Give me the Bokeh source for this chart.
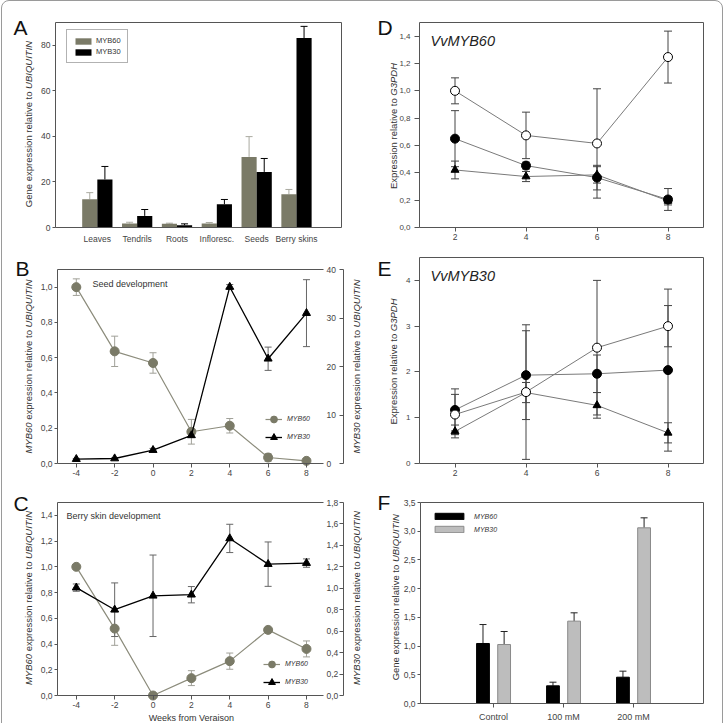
import numpy as np
from math import pi
from bokeh.plotting import figure
from bokeh.layouts import row, column
from bokeh.models import (ColumnDataSource, Range1d, LinearAxis, FixedTicker, Whisker, TeeHead,
                          Label, Legend, LegendItem, CustomJSTickFormatter, InlineStyleSheet)
from bokeh.embed import file_html
from bokeh.resources import INLINE

FONT = "Liberation Sans"
TXT = "#333333"
TICK_TXT = "#444444"
AX = "#555555"
OLIVE = "#7a7a67"
OLIVE_LINE = "#8c8c7c"
LIGHT = "#bdbdbd"

# ---------------- data ----------------
# A: expression per tissue
tissues = ["Leaves", "Tendrils", "Roots", "Infloresc.", "Seeds", "Berry skins"]
a_myb60 = [12.4, 1.8, 1.6, 1.8, 31.0, 14.6]
a_myb60_err = [2.9, 0.5, 0.3, 0.4, 8.9, 2.1]
a_myb30 = [21.1, 5.1, 1.0, 10.2, 24.4, 83.2]
a_myb30_err = [5.7, 2.8, 0.6, 2.1, 5.9, 5.1]

# B, C: weeks from veraison
weeks_bc = [-4, -2, 0, 2, 4, 6, 8]
b_myb60 = [1.0, 0.636, 0.57, 0.18, 0.214, 0.034, 0.015]
b_myb60_err = [0.047, 0.086, 0.058, 0.07, 0.041, 0.022, 0.005]
b_myb30 = [0.9, 1.03, 2.76, 5.8, 36.4, 21.6, 31.0]
b_myb30_err = [0.15, 0.15, 0.35, 0.4, 0.5, 2.4, 6.9]
c_myb60 = [1.0, 0.52, 0.0, 0.135, 0.267, 0.51, 0.362]
c_myb60_err = [0.01, 0.13, 0.0, 0.058, 0.063, 0.012, 0.062]
c_myb30 = [1.006, 0.80, 0.93, 0.94, 1.465, 1.225, 1.235]
c_myb30_err = [0.034, 0.25, 0.38, 0.076, 0.132, 0.207, 0.039]

# D, E: three series over weeks
weeks_de = [2, 4, 6, 8]
d_open = [1.0, 0.674, 0.615, 1.247]
d_open_err = [0.095, 0.17, 0.40, 0.19]
d_filled = [0.65, 0.453, 0.365, 0.205]
d_filled_err = [0.205, 0.025, 0.09, 0.08]
d_tri = [0.421, 0.373, 0.385, 0.195]
d_tri_err = [0.065, 0.037, 0.06, 0.03]
e_open = [1.07, 1.56, 2.53, 3.0]
e_open_err = [0.44, 1.47, 1.47, 0.45]
e_filled = [1.17, 1.93, 1.96, 2.04]
e_filled_err = [0.46, 0.97, 0.41, 1.77]
e_tri = [0.70, 1.55, 1.27, 0.67]
e_tri_err = [0.14, 0.22, 0.28, 0.22]

# F: salt treatments
treatments = ["Control", "100 mM", "200 mM"]
f_myb60 = [1.045, 0.308, 0.458]
f_myb60_err = [0.33, 0.063, 0.105]
f_myb30 = [1.027, 1.434, 3.059]
f_myb30_err = [0.227, 0.145, 0.174]

# Arial / Liberation Sans advance widths (per 1000 em)
ADV = {" ": 278, ".": 278, ",": 278, "-": 333,
       "a": 556, "b": 556, "c": 500, "d": 556, "e": 556, "f": 278, "g": 556, "h": 556, "i": 222,
       "j": 222, "k": 500, "l": 222, "m": 833, "n": 556, "o": 556, "p": 556, "q": 556, "r": 333,
       "s": 500, "t": 278, "u": 556, "v": 500, "w": 722, "x": 500, "y": 500, "z": 500,
       "A": 667, "B": 667, "C": 722, "D": 722, "E": 667, "F": 611, "G": 778, "H": 722, "I": 278,
       "J": 500, "K": 667, "L": 556, "M": 833, "N": 722, "O": 778, "P": 667, "Q": 778, "R": 722,
       "S": 667, "T": 611, "U": 722, "V": 667, "W": 944, "X": 667, "Y": 667, "Z": 611}


def text_w(s, size):
    return sum(ADV.get(ch, 556) for ch in s) * size / 1000.0


comma_fmt = CustomJSTickFormatter(code="return tick.toFixed(1).replace('.', ',');")
int_fmt = CustomJSTickFormatter(code="return tick.toFixed(0);")


class Panel:
    """A figure whose frame fills the whole canvas; the plot box is drawn by
    axes pinned at the box edges, so titles and letters can sit in the margins."""

    def __init__(self, W, H, L, R, T, B, xr, yr):
        self.W, self.H = W, H
        self.x0, self.x1 = xr
        self.y0, self.y1 = yr
        self.T, self.B = T, B
        kx = (self.x1 - self.x0) / (R - L)
        ky = (self.y1 - self.y0) / (B - T)
        self.p = figure(width=W, height=H,
                        x_range=Range1d(self.x0 - L * kx, self.x1 + (W - R) * kx),
                        y_range=Range1d(self.y0 - (H - B) * ky, self.y1 + T * ky),
                        output_backend="svg", toolbar_location=None, tools="",
                        x_axis_location=None, y_axis_location=None, min_border=0)
        p = self.p
        p.xgrid.visible = False
        p.ygrid.visible = False
        p.outline_line_color = None
        p.background_fill_color = "white"
        p.border_fill_color = "white"

    def add_range(self, name, rr):
        r0, r1 = rr
        k = (r1 - r0) / (self.B - self.T)
        self.p.extra_y_ranges = {name: Range1d(r0 - (self.H - self.B) * k, r1 + self.T * k)}

    def axis(self, side, ticks, loc, bounds, tick_out=4, tick_in=0, standoff=3,
             size="8.5px", fmt=None, overrides=None, range_name="default"):
        ax = LinearAxis(fixed_location=loc, bounds=bounds, ticker=FixedTicker(ticks=list(ticks)),
                        axis_line_color=AX, major_tick_line_color=AX,
                        major_tick_out=tick_out, major_tick_in=tick_in,
                        minor_tick_line_color=None, major_label_standoff=standoff,
                        major_label_text_font=FONT, major_label_text_font_size=size,
                        major_label_text_color=TICK_TXT)
        if range_name != "default":
            ax.y_range_name = range_name
        if fmt is not None:
            ax.formatter = fmt
        if overrides is not None:
            ax.major_label_overrides = overrides
        self.p.add_layout(ax, side)
        return ax

    def text(self, x, y, t, size, italic=False, align="left", baseline="middle",
             color=TXT, angle=0.0):
        self.p.add_layout(Label(x=x, y=self.H - y, x_units="screen", y_units="screen", text=t,
                                angle=angle, text_align=align, text_baseline=baseline,
                                text_font=FONT, text_font_size=f"{size}px", text_color=color,
                                text_font_style="italic" if italic else "normal"))

    def vtitle(self, parts, x, yc, size=9.5):
        """Vertical title of plain and italic runs, reading bottom to top."""
        total = sum(text_w(t, size) for t, _ in parts)
        y = (self.H - yc) - total / 2.0
        for t, italic in parts:
            lead = len(t) - len(t.lstrip())
            self.text(x, self.H - (y + text_w(t[:lead], size)), t.strip(), size,
                      italic=italic, angle=pi / 2)
            y += text_w(t, size)

    def letter(self, t, x, baseline):
        self.text(x, baseline, t, 21, baseline="alphabetic", color="#111111")


def whisker(p, x, y, err, color, size=7, both=True, range_name="default"):
    y = np.asarray(y, dtype=float)
    err = np.asarray(err, dtype=float)
    src = ColumnDataSource(dict(x=list(x), upper=y + err, lower=(y - err) if both else y))
    w = Whisker(source=src, base="x", upper="upper", lower="lower", dimension="height",
                line_color=color, line_width=1,
                upper_head=TeeHead(size=size, line_color=color, line_width=1),
                lower_head=TeeHead(size=size, line_color=color, line_width=1) if both else None,
                y_range_name=range_name)
    p.add_layout(w)


UBQ_GENE = [("Gene expression relative to ", False), ("UBIQUITIN", True)]

# ---------------- A ----------------
A = Panel(362, 245, 55, 341, 22, 227, (-0.05, 7.13), (0, 90))
pA = A.p
a_pos = np.arange(1, len(tissues) + 1)
rA60 = pA.vbar(x=a_pos - 0.19, top=a_myb60, width=0.38, fill_color=OLIVE, line_color=None)
rA30 = pA.vbar(x=a_pos + 0.19, top=a_myb30, width=0.38, fill_color="black", line_color=None)
whisker(pA, a_pos - 0.19, a_myb60, a_myb60_err, "#aaaaa0", both=False)
whisker(pA, a_pos + 0.19, a_myb30, a_myb30_err, "black", both=False)
A.axis("below", a_pos, 0, (A.x0, A.x1), tick_out=0, standoff=6,
       overrides={int(i): t for i, t in zip(a_pos, tissues)})
A.axis("left", [0, 20, 40, 60, 80], A.x0, (0, 90), tick_out=3, standoff=2, fmt=int_fmt)
A.axis("above", [], 90, (A.x0, A.x1))
A.axis("right", [], A.x1, (0, 90))
pA.add_layout(Legend(items=[LegendItem(label="MYB60", renderers=[rA60]),
                            LegendItem(label="MYB30", renderers=[rA30])],
                     location=(66, 182), orientation="vertical", margin=0, padding=6, spacing=2,
                     glyph_width=20, glyph_height=8, label_height=8, label_standoff=3,
                     label_text_font=FONT, label_text_font_size="7.5px", label_text_color=TXT,
                     border_line_color="#666666", border_line_width=1,
                     background_fill_color="white", background_fill_alpha=1))
A.vtitle(UBQ_GENE, 28, 123.5)
A.letter("A", 13, 27)


# ---------------- B and C ----------------
def dev_panel(H, T, B, yl, yr, left_ticks, right_ticks, right_fmt):
    P = Panel(362, H, 57, 343, T, B, (-4.98, 9.93), yl)
    P.add_range("r", yr)
    P.axis("below", weeks_bc, yl[0], (P.x0, 8.9), tick_out=4, standoff=2, fmt=int_fmt)
    P.axis("left", left_ticks, P.x0, yl, tick_out=3, standoff=2, fmt=comma_fmt)
    P.axis("above", [], yl[1], (P.x0, 8.9))
    P.axis("right", right_ticks, P.x1, yr, tick_out=0, tick_in=4, standoff=-17,
           fmt=right_fmt, range_name="r")
    return P


def dev_series(p, y60, e60, y30, e30):
    whisker(p, weeks_bc, y60, e60, "#a0a098", size=7)
    whisker(p, weeks_bc, y30, e30, "#666666", size=7, range_name="r")
    l60 = p.line(weeks_bc, y60, line_color=OLIVE_LINE, line_width=1.2)
    s60 = p.scatter(weeks_bc, y60, marker="circle", size=9, fill_color=OLIVE, line_color=OLIVE)
    l30 = p.line(weeks_bc, y30, line_color="black", line_width=1.3, y_range_name="r")
    s30 = p.scatter(weeks_bc, y30, marker="triangle", size=8, fill_color="black",
                    line_color="black", y_range_name="r")
    return l60, s60, l30, s30


def dev_legend(p, rs, loc):
    l60, s60, l30, s30 = rs
    p.add_layout(Legend(items=[LegendItem(label="MYB60", renderers=[l60, s60]),
                               LegendItem(label="MYB30", renderers=[l30, s30])],
                        location=loc, orientation="vertical", margin=0, padding=0, spacing=-4,
                        glyph_width=17, glyph_height=18, label_height=18, label_standoff=5,
                        label_text_font=FONT, label_text_font_size="7px",
                        label_text_font_style="italic", label_text_color=TXT,
                        border_line_color=None, background_fill_alpha=0))


MYB60_UBQ = [("MYB60", True), (" expression relative to ", False), ("UBIQUITIN", True)]
MYB30_UBQ = [("MYB30", True), (" expression relative to ", False), ("UBIQUITIN", True)]

Bp = dev_panel(235, 24, 218, (0, 1.1), (0, 40), [0.0, 0.2, 0.4, 0.6, 0.8, 1.0],
               [0, 10, 20, 30, 40], int_fmt)
dev_legend(Bp.p, dev_series(Bp.p, b_myb60, b_myb60_err, b_myb30, b_myb30_err), (265, 34.3))
Bp.text(92, 38, "Seed development", 9)
Bp.vtitle(MYB60_UBQ, 28, 121)
Bp.vtitle(MYB30_UBQ, 355.5, 121)
Bp.letter("B", 15, 23)

Cp = dev_panel(243, 22, 215, (0, 1.5), (0, 1.8), [0.0, 0.2, 0.4, 0.6, 0.8, 1.0, 1.2, 1.4],
               [0.0, 0.2, 0.4, 0.6, 0.8, 1.0, 1.2, 1.4, 1.6, 1.8], comma_fmt)
dev_legend(Cp.p, dev_series(Cp.p, c_myb60, c_myb60_err, c_myb30, c_myb30_err), (263, 32.3))
Cp.text(66, 35.7, "Berry skin development", 9)
Cp.p.add_layout(Label(x=2, y=5.5, x_units="data", y_units="screen", text="Weeks from Veraison",
                      text_font=FONT, text_font_size="9px", text_color=TXT,
                      text_align="center", text_baseline="middle"))
Cp.vtitle(MYB60_UBQ, 28, 117.5)
Cp.vtitle(MYB30_UBQ, 355.5, 117.5)
Cp.letter("C", 13, 23)


# ---------------- D and E ----------------
def time_panel(H, T, B, yr, y_ticks, fmt, title, title_y, open_y, open_e, fill_y, fill_e,
               tri_y, tri_e):
    P = Panel(362, H, 57, 341, T, B, (1, 9), yr)
    p = P.p
    P.axis("below", weeks_de, yr[0], (1, 9), tick_out=4, standoff=2, fmt=int_fmt)
    P.axis("left", y_ticks, 1, yr, tick_out=5, standoff=4, size="8px", fmt=fmt)
    P.axis("above", [], yr[1], (1, 9))
    P.axis("right", [], 9, yr)
    for ys, es in ((open_y, open_e), (fill_y, fill_e), (tri_y, tri_e)):
        whisker(p, weeks_de, ys, es, "#444444", size=8)
    for ys in (tri_y, fill_y, open_y):
        p.line(weeks_de, ys, line_color="#7a7a7a", line_width=1)
    p.scatter(weeks_de, tri_y, marker="triangle", size=8, fill_color="black", line_color="black")
    p.scatter(weeks_de, fill_y, marker="circle", size=9, fill_color="black", line_color="black")
    p.scatter(weeks_de, open_y, marker="circle", size=9, fill_color="white", line_color="black")
    P.text(68, title_y, title, 14.5, italic=True, color="#222222")
    P.vtitle([("Expression relative to ", False), ("G3PDH", True)], 31, (T + B) / 2 + 1)
    return P


Dp = time_panel(245, 22, 227, (0, 1.5), [0.0, 0.2, 0.4, 0.6, 0.8, 1.0, 1.2, 1.4], comma_fmt,
                "VvMYB60", 40, d_open, d_open_err, d_filled, d_filled_err, d_tri, d_tri_err)
Dp.letter("D", 15, 27)

Ep = time_panel(235, 12, 218, (0, 4.5), [0, 1, 2, 3, 4], int_fmt, "VvMYB30", 30.7,
                e_open, e_open_err, e_filled, e_filled_err, e_tri, e_tri_err)
Ep.letter("E", 15, 23)

# ---------------- F ----------------
Fp = Panel(362, 243, 58, 341, 22, 223, (-0.044, 4.0), (0, 3.5))
pF = Fp.p
f_pos = np.arange(1, len(treatments) + 1)
rF60 = pF.vbar(x=f_pos - 0.151, top=f_myb60, width=0.183, fill_color="black", line_color="black")
rF30 = pF.vbar(x=f_pos + 0.151, top=f_myb30, width=0.183, fill_color=LIGHT, line_color="#8a8a8a")
whisker(pF, f_pos - 0.151, f_myb60, f_myb60_err, "#222222", both=False)
whisker(pF, f_pos + 0.151, f_myb30, f_myb30_err, "#222222", both=False)
Fp.axis("below", f_pos, 0, (Fp.x0, Fp.x1), tick_out=4, standoff=4, size="9px",
        overrides={int(i): t for i, t in zip(f_pos, treatments)})
Fp.axis("left", [0.0, 0.5, 1.0, 1.5, 2.0, 2.5, 3.0, 3.5], Fp.x0, (0, 3.5), tick_out=3,
        standoff=2, fmt=comma_fmt)
Fp.axis("above", [], 3.5, (Fp.x0, Fp.x1))
Fp.axis("right", [], Fp.x1, (0, 3.5))
pF.add_layout(Legend(items=[LegendItem(label="MYB60", renderers=[rF60]),
                            LegendItem(label="MYB30", renderers=[rF30])],
                     location=(69.1, 189.7), orientation="vertical", margin=0, padding=0, spacing=5,
                     glyph_width=36, glyph_height=8, label_height=8, label_standoff=7,
                     label_text_font=FONT, label_text_font_size="7px", label_text_font_style="italic",
                     label_text_color=TXT, border_line_color=None, background_fill_alpha=0))
Fp.vtitle(UBQ_GENE, 33.3, 116.7)
Fp.letter("F", 15, 22)

frame_css = InlineStyleSheet(css=""":host::after { content: ""; position: absolute; left: 1px; top: 0px;
  width: 720px; height: 760px; border: 1px solid #9a9a9a; border-radius: 8px;
  pointer-events: none; z-index: 10; }
:host { position: relative; }""")

layout = row(column(A.p, Bp.p, Cp.p), column(Dp.p, Ep.p, Fp.p), stylesheets=[frame_css])

open("out.html", "w").write(file_html(layout, INLINE))
